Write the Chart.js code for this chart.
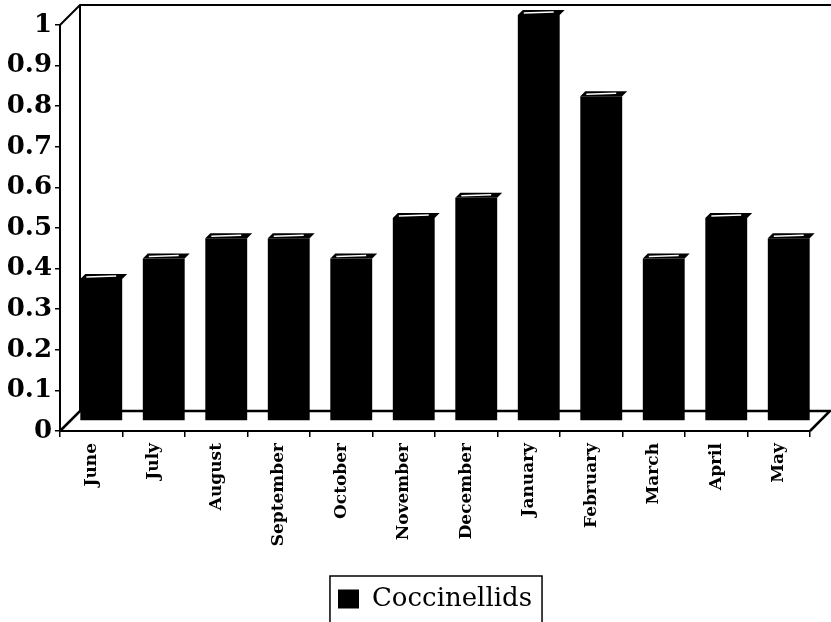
<!DOCTYPE html>
<html>
<head>
<meta charset="utf-8">
<script src="https://cdn.jsdelivr.net/npm/chart.js@4/dist/chart.umd.min.js"></script>
<style>
  html, body { margin: 0; padding: 0; background: #fff; }
  #wrap { width: 831px; height: 622px; }
</style>
</head>
<body>
<div id="wrap"><canvas id="chart_coccinellids"></canvas></div>
<script>
// values
var months = ['June', 'July', 'August', 'September', 'October', 'November',
              'December', 'January', 'February', 'March', 'April', 'May'];
var coccinellids = [0.35, 0.4, 0.45, 0.45, 0.4, 0.5, 0.55, 1.0, 0.8, 0.4, 0.5, 0.45];
var yTicks = [0, 0.1, 0.2, 0.3, 0.4, 0.5, 0.6, 0.7, 0.8, 0.9, 1];

// depth of the fake 3D box (pixels), bars sit half way in
var DEPTH = 20;

var box3d = {
    id: 'box3d',
    beforeDraw: (chart) => {
        const ctx = chart.ctx;
        ctx.save();
        ctx.fillStyle = 'white';
        ctx.fillRect(0, 0, chart.width, chart.height);
        ctx.restore();
    },
    beforeDatasetsDraw: (chart) => {
        const ctx = chart.ctx;
        const a = chart.chartArea;
        ctx.save();
        ctx.strokeStyle = 'black';
        ctx.lineWidth = 2;
        // back wall: left edge and top edge
        ctx.beginPath();
        ctx.moveTo(a.left, a.top);
        ctx.lineTo(a.left + DEPTH, a.top - DEPTH);
        ctx.lineTo(chart.width, a.top - DEPTH);
        ctx.moveTo(a.left + DEPTH, a.top - DEPTH);
        ctx.lineTo(a.left + DEPTH, a.bottom - DEPTH);
        ctx.stroke();
        // floor
        ctx.lineWidth = 2.5;
        ctx.beginPath();
        ctx.moveTo(a.left, a.bottom);
        ctx.lineTo(a.left + DEPTH, a.bottom - DEPTH);
        ctx.lineTo(a.right + DEPTH, a.bottom - DEPTH);
        ctx.lineTo(a.right, a.bottom);
        ctx.stroke();
        ctx.restore();
        // push the bars back half the depth
        ctx.save();
        ctx.translate(DEPTH / 2, -DEPTH / 2);
    },
    afterDatasetsDraw: (chart) => {
        const ctx = chart.ctx;
        ctx.restore();
        // top face of each bar
        const meta = chart.getDatasetMeta(0);
        ctx.save();
        ctx.fillStyle = 'black';
        ctx.strokeStyle = 'white';
        ctx.lineWidth = 1.5;
        const d = 5;
        meta.data.forEach((bar) => {
            const half = bar.width / 2;
            const x = bar.x + DEPTH / 2;
            const y = bar.y - DEPTH / 2;
            ctx.beginPath();
            ctx.moveTo(x - half, y);
            ctx.lineTo(x - half + d, y - d);
            ctx.lineTo(x + half + d, y - d);
            ctx.lineTo(x + half, y);
            ctx.closePath();
            ctx.fill();
            ctx.beginPath();
            ctx.moveTo(x - half + 6, y - 2);
            ctx.lineTo(x + half - 6, y - 3);
            ctx.stroke();
        });
        ctx.restore();
    },
    afterDraw: (chart) => {
        // frame round the legend
        const lg = chart.legend;
        const ctx = chart.ctx;
        if (!lg || !lg.legendHitBoxes.length) return;
        const hb = lg.legendHitBoxes[0];
        ctx.save();
        ctx.strokeStyle = 'black';
        ctx.lineWidth = 1.5;
        ctx.strokeRect(hb.left - 8, hb.top - 10, hb.width + 18, hb.height + 30);
        ctx.restore();
    }
};

var chart_coccinellids = new Chart(document.getElementById('chart_coccinellids'), {
    type: 'bar',
    data: {
        labels: months,
        datasets: [
            {
                label: 'Coccinellids',
                data: coccinellids,
                backgroundColor: 'black',
                borderWidth: 0,
                categoryPercentage: 1,
                barPercentage: 0.67
            }
        ]
    },
    options: {
        animation: false,
        responsive: true,
        maintainAspectRatio: false,
        layout: {
            padding: { top: 25, right: 21, left: 0, bottom: 0 }
        },
        plugins: {
            title: { display: false },
            tooltip: { enabled: false },
            legend: {
                display: true,
                position: 'bottom',
                fullSize: false,
                labels: {
                    color: 'black',
                    boxWidth: 21,
                    boxHeight: 19,
                    padding: 10,
                    font: { family: 'DejaVu Serif', size: 26 }
                }
            }
        },
        scales: {
            x: {
                afterFit: (axis) => { axis.height = 145; },
                grid: {
                    display: true,
                    offset: true,
                    drawOnChartArea: false,
                    tickLength: 6,
                    color: 'black',
                    lineWidth: 1.5
                },
                border: { display: true, color: 'black', width: 2 },
                ticks: {
                    color: 'black',
                    maxRotation: 90,
                    minRotation: 90,
                    padding: 6,
                    font: { family: 'DejaVu Serif', size: 17, weight: 'bold' }
                }
            },
            y: {
                min: 0,
                max: 1,
                afterFit: (axis) => { axis.width = 60; },
                afterBuildTicks: (axis) => {
                    axis.ticks = yTicks.map(v => ({ value: v }));
                },
                grid: {
                    display: true,
                    drawOnChartArea: false,
                    tickLength: 5,
                    color: 'black',
                    lineWidth: 1.5
                },
                border: { display: true, color: 'black', width: 2 },
                ticks: {
                    color: 'black',
                    padding: 3,
                    font: { family: 'DejaVu Serif', size: 26, weight: 'bold' },
                    callback: function(value) {
                        return String(Math.round(value * 10) / 10);
                    }
                }
            }
        }
    },
    plugins: [box3d]
});
</script>
</body>
</html>
